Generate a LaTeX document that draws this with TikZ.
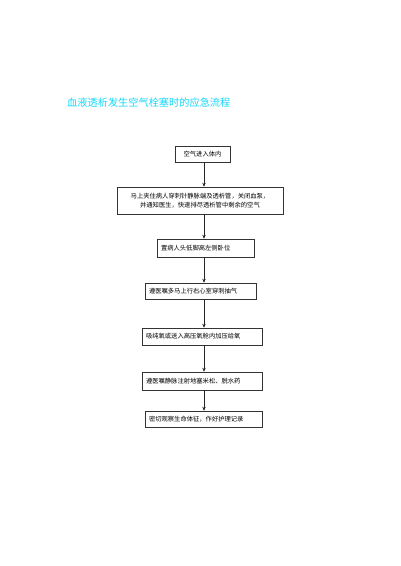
\documentclass[tikz,border=0pt]{standalone}
\usepackage{fontspec}
\newfontfamily\cjk{Noto Sans CJK SC}
\usetikzlibrary{arrows.meta,shadows}
\definecolor{titlecyan}{RGB}{20,215,250}
\tikzset{
  x=1pt,y=1pt,
  flowbox/.style={draw=black!80, line width=0.5pt, fill=white, inner xsep=4pt, inner ysep=1pt,
    font=\cjk\fontsize{6.3}{9}\selectfont,
    drop shadow={shadow xshift=1.3pt, shadow yshift=-1.3pt, fill=black!65, opacity=1}},
  arr/.style={draw=black!85, line width=0.6pt, -{Stealth[length=4pt,width=3.4pt]}}
}
\begin{document}
\begin{tikzpicture}
\useasboundingbox (0,0) rectangle (400,-566);
\node[anchor=west, text=titlecyan, font=\cjk\fontsize{10.2}{12}\selectfont, inner sep=0pt] (title) at (67,-103) {血液透析发生空气栓塞时的应急流程};
\coordinate (ax) at (204,0);
\node[flowbox, minimum width=55pt, minimum height=16pt, align=center] (b1) at (202.5,-154) {空气进入体内};
\node[flowbox, minimum width=166pt, minimum height=27pt, text width=158pt, align=center] (b2) at (200,-200.5) {马上夹住病人穿刺针静脉端及透析管，关闭血泵，\\并通知医生，快速排尽透析管中剩余的空气};
\node[flowbox, minimum width=97pt, minimum height=18pt, text width=89pt, align=left] (b3) at (205.5,-248) {置病人头低脚高左侧卧位};
\node[flowbox, minimum width=111pt, minimum height=16pt, text width=103pt, align=left] (b4) at (200.5,-291) {遵医嘱多马上行右心室穿刺抽气};
\node[flowbox, minimum width=120pt, minimum height=17pt, text width=112pt, align=left] (b5) at (202,-336.5) {吸纯氧或送入高压氧舱内加压给氧};
\node[flowbox, minimum width=120pt, minimum height=18pt, text width=112pt, align=left] (b6) at (202,-381) {遵医嘱静脉注射地塞米松、脱水药};
\node[flowbox, minimum width=117pt, minimum height=16pt, text width=109pt, align=left] (b7) at (203.5,-419) {密切观察生命体征，作好护理记录};
\draw[arr] (b1.south -| ax) -- (b2.north -| ax);
\draw[arr] (b2.south -| ax) -- (b3.north -| ax);
\draw[arr] (b3.south -| ax) -- (b4.north -| ax);
\draw[arr] (b4.south -| ax) -- (b5.north -| ax);
\draw[arr] (b5.south -| ax) -- (b6.north -| ax);
\draw[arr] (b6.south -| ax) -- (b7.north -| ax);
\end{tikzpicture}
\end{document}
